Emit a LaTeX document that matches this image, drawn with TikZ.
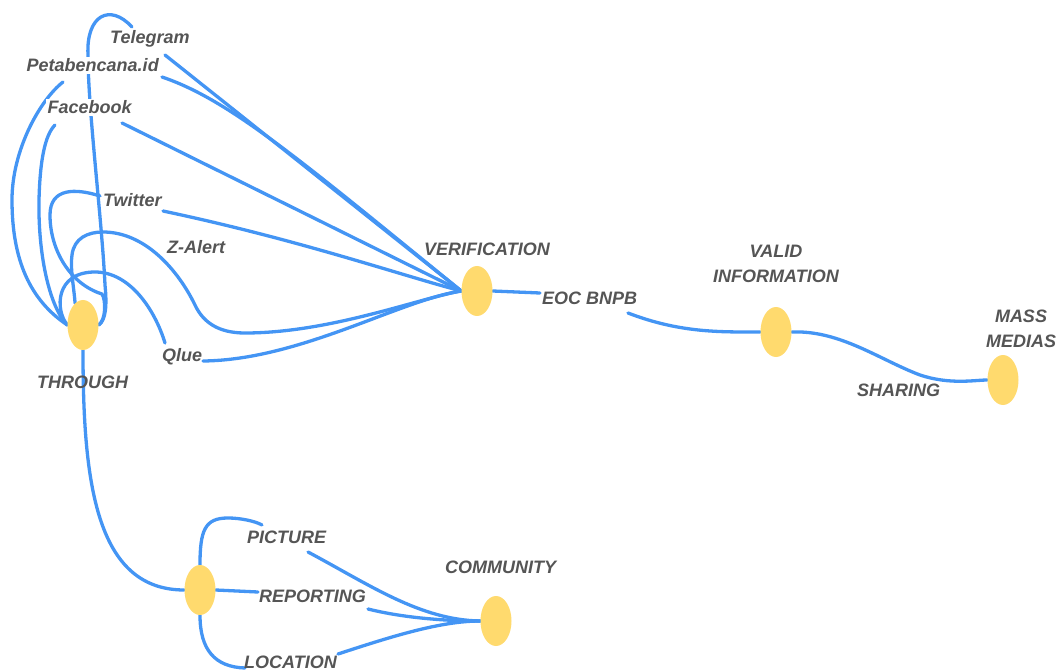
\documentclass[tikz,border=0pt]{standalone}
\usepackage{fontspec}
\setmainfont{Liberation Sans}
\usetikzlibrary{shapes.geometric}
\pgfdeclarelayer{bg}
\pgfsetlayers{bg,main}
\definecolor{lineblue}{HTML}{4495F4}
\definecolor{dotyellow}{HTML}{FFDA6E}
\definecolor{txtgray}{HTML}{555555}
\tikzset{
 conn/.style={draw=lineblue, line width=3.3pt, line cap=round},
 dot/.style={ellipse, fill=dotyellow, minimum width=31pt, minimum height=50pt, inner sep=0pt},
 lbl/.style={text=txtgray, font=\fontsize{18}{25}\selectfont\bfseries\itshape, inner sep=0pt},
 lblgap/.style={lbl, fill=white, inner sep=1.5pt},
}
\begin{document}
\begin{tikzpicture}[x=1pt,y=-1pt]
\useasboundingbox (0,0) rectangle (1061,671);
% main dots
\node[dot] (thr) at (83,325) {};
\node[dot] (ver) at (477,291) {};
\node[dot] (val) at (776,332) {};
\node[dot] (mas) at (1003,380) {};
\node[dot] (rep) at (200,590) {};
\node[dot] (com) at (496,621) {};
% labels
\node[lbl, anchor=base west] (tel) at (110,44) {Telegram};
\node[lblgap, anchor=base west] (pet) at (25,72) {Petabencana.id};
\node[lblgap, anchor=base west] (fac) at (46,114) {Facebook};
\node[lbl, anchor=base west] (twi) at (103,207) {Twitter};
\node[lbl, anchor=base west] (zal) at (167,254) {Z-Alert};
\node[lbl, anchor=base west] (qlu) at (162,361) {Qlue};
\node[lbl, anchor=base west] (thrl) at (37,388) {THROUGH};
\node[lbl, anchor=base west] (verl) at (424,256) {VERIFICATION};
\node[lbl, anchor=base west] (eoc) at (542,305) {EOC BNPB};
\node[lbl, anchor=north, align=center] (vall) at (776,245) {VALID\\INFORMATION};
\node[lbl, anchor=north, align=center] (masl) at (1021,310) {MASS\\MEDIAS};
\node[lbl, anchor=base west] (sha) at (857,396) {SHARING};
\node[lbl, anchor=base west] (pic) at (247,543) {PICTURE};
\node[lbl, anchor=base west] (repl) at (259,602) {REPORTING};
\node[lbl, anchor=base west] (loc) at (244,668) {LOCATION};
\node[lbl, anchor=base west] (coml) at (445,573) {COMMUNITY};
% attachment points
\coordinate (telL) at (132,27);
\coordinate (telR) at (165,55);
\coordinate (petL) at (63,82);
\coordinate (petR) at (162,77);
\coordinate (facL) at (55,125);
\coordinate (facR) at (122,123);
\coordinate (twiL) at (100,196);
\coordinate (twiR) at (163,211);
\coordinate (qluL) at (165,343);
\coordinate (qluR) at (203,361);
\coordinate (eocL) at (540,293);
\coordinate (eocR) at (628,313);
\coordinate (picL) at (262,525);
\coordinate (picR) at (308,552);
\coordinate (repL) at (258,592);
\coordinate (repR) at (368,609);
\coordinate (locL) at (245,668);
\coordinate (locR) at (338,654);
\begin{pgfonlayer}{bg}
% THROUGH branches
\draw[conn] (thr.east) .. controls (106,320) and (107,305) .. (105,285)
  .. controls (102,220) and (88,110) .. (88,55)
  .. controls (86,15) and (110,3) .. (telL);
\draw[conn] (thr.east) .. controls (106,320) and (106,300) .. (102,294)
  .. controls (70,284) and (50,250) .. (50,215)
  .. controls (50,188) and (75,188) .. (twiL);
\draw[conn] (thr.west) .. controls (30,300) and (12,260) .. (12,200)
  .. controls (12,150) and (40,100) .. (petL);
\draw[conn] (thr.west) .. controls (48,305) and (38,250) .. (39,200)
  .. controls (40,160) and (45,135) .. (facL);
\draw[conn] (thr.west) .. controls (55,310) and (55,272) .. (95,272)
  .. controls (130,272) and (155,310) .. (qluL);
\draw[conn] (thr.110) .. controls (74,288) and (70,268) .. (72,255)
  .. controls (74,238) and (88,232) .. (103,232)
  .. controls (145,232) and (178,270) .. (195,305)
  .. controls (203,322) and (218,333) .. (245,333)
  .. controls (330,333) and (420,298) .. (ver.west);
% to verification
\draw[conn] (telR) -- (ver.west);
\draw[conn] (petR) .. controls (230,100) and (300,160) .. (ver.west);
\draw[conn] (facR) -- (ver.west);
\draw[conn] (twiR) .. controls (300,240) and (400,275) .. (ver.west);
\draw[conn] (qluR) .. controls (300,360) and (400,300) .. (ver.west);
% right chain
\draw[conn] (ver.east) -- (eocL);
\draw[conn] (eocR) .. controls (680,333) and (720,332) .. (val.west);
\draw[conn] (val.east) .. controls (840,330) and (880,360) .. (920,375)
  .. controls (950,385) and (975,380) .. (mas.west);
% bottom
\draw[conn] (thr.south) .. controls (83,480) and (95,590) .. (rep.west);
\draw[conn] (rep.north) .. controls (200,530) and (205,518) .. (228,518)
  .. controls (240,518) and (255,521) .. (picL);
\draw[conn] (rep.east) -- (repL);
\draw[conn] (rep.south) .. controls (200,650) and (215,667) .. (locL);
\draw[conn] (picR) .. controls (370,585) and (420,620) .. (com.west);
\draw[conn] (repR) .. controls (400,617) and (440,621) .. (com.west);
\draw[conn] (locR) .. controls (390,637) and (440,621) .. (com.west);
\end{pgfonlayer}
\end{tikzpicture}
\end{document}
